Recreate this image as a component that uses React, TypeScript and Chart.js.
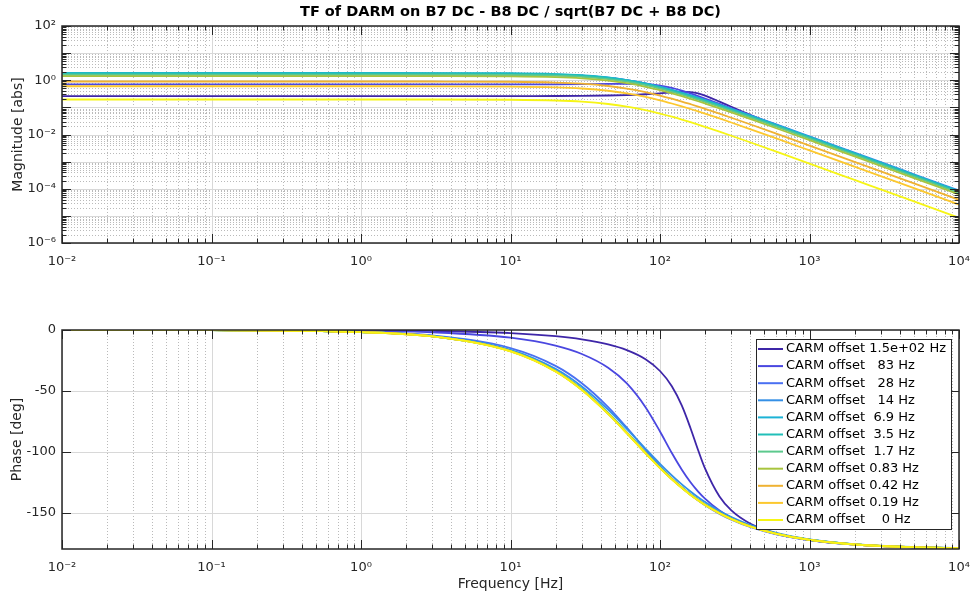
import React, { useEffect, useRef } from 'react';
import { Chart, registerables } from 'chart.js';

Chart.register(...registerables);

const FONT = "'DejaVu Sans', 'Liberation Sans', sans-serif";
const TEXT = '#262626';
const MAJOR_GRID = '#d8d8d8';
const MINOR_GRID = '#bababa';
const TITLE = 'TF of DARM on B7 DC - B8 DC / sqrt(B7 DC + B8 DC)';

// ---- data ----
const frequencies = [0.01, 0.1, 1, 3, 10, 20, 30, 45, 60, 80, 100, 120, 140, 160, 180, 200, 250, 300, 400, 600, 1000, 2000, 5000, 10000];

const offsetLabels = [
  'CARM offset 1.5e+02 Hz',
  'CARM offset   83 Hz',
  'CARM offset   28 Hz',
  'CARM offset   14 Hz',
  'CARM offset  6.9 Hz',
  'CARM offset  3.5 Hz',
  'CARM offset  1.7 Hz',
  'CARM offset 0.83 Hz',
  'CARM offset 0.42 Hz',
  'CARM offset 0.19 Hz',
  'CARM offset    0 Hz',
];

const lineColors = ['#3e26a8', '#4a47e0', '#4a70f2', '#3590e6', '#1cb3d6', '#21bfb8', '#5cc98d', '#a8c43e', '#efb232', '#fcc82e', '#f6f515'];

const magOffset150 = [0.260, 0.260, 0.260, 0.260, 0.261, 0.263, 0.266, 0.274, 0.285, 0.305, 0.331, 0.359, 0.377, 0.368, 0.328, 0.273, 0.163, 0.105, 0.0535, 0.0221, 0.00767, 0.00189, 3.01e-4, 7.52e-5];
const magOffset83 = [0.700, 0.700, 0.700, 0.700, 0.702, 0.707, 0.715, 0.729, 0.736, 0.711, 0.632, 0.521, 0.413, 0.326, 0.260, 0.211, 0.134, 0.0920, 0.0511, 0.0225, 0.00804, 0.00201, 3.21e-4, 8.02e-5];
const magOffset28 = [1.60, 1.60, 1.60, 1.598, 1.579, 1.516, 1.418, 1.223, 1.012, 0.762, 0.572, 0.436, 0.339, 0.270, 0.219, 0.181, 0.119, 0.0840, 0.0480, 0.0216, 0.00781, 0.00196, 3.14e-4, 7.84e-5];
const magOffset14 = [1.75, 1.75, 1.75, 1.746, 1.715, 1.618, 1.478, 1.238, 1.009, 0.759, 0.576, 0.444, 0.350, 0.281, 0.230, 0.191, 0.127, 0.0903, 0.0520, 0.0235, 0.00853, 0.00214, 3.43e-4, 8.58e-5];
const magOffset6p9 = [1.85, 1.85, 1.85, 1.846, 1.809, 1.694, 1.533, 1.263, 1.013, 0.749, 0.561, 0.430, 0.336, 0.269, 0.219, 0.182, 0.121, 0.0854, 0.0490, 0.0221, 0.00802, 0.00201, 3.22e-4, 8.06e-5];
const magOffset3p5 = [1.80, 1.80, 1.80, 1.796, 1.760, 1.649, 1.492, 1.229, 0.986, 0.729, 0.546, 0.418, 0.327, 0.262, 0.213, 0.177, 0.117, 0.0831, 0.0477, 0.0215, 0.00781, 0.00196, 3.14e-4, 7.84e-5];
const magOffset1p7 = [1.62, 1.62, 1.62, 1.617, 1.584, 1.484, 1.343, 1.106, 0.887, 0.656, 0.492, 0.376, 0.295, 0.236, 0.192, 0.159, 0.1055, 0.0748, 0.0429, 0.0194, 0.00703, 0.00176, 2.82e-4, 7.06e-5];
const magOffset0p83 = [1.42, 1.42, 1.42, 1.417, 1.388, 1.301, 1.177, 0.969, 0.777, 0.575, 0.431, 0.330, 0.258, 0.206, 0.168, 0.139, 0.0925, 0.0655, 0.0376, 0.0170, 0.00616, 0.00155, 2.47e-4, 6.19e-5];
const magOffset0p42 = [0.900, 0.900, 0.900, 0.898, 0.880, 0.824, 0.746, 0.614, 0.493, 0.365, 0.273, 0.209, 0.164, 0.131, 0.107, 0.0884, 0.0586, 0.0415, 0.0239, 0.0108, 0.00390, 9.79e-4, 1.57e-4, 3.92e-5];
const magOffset0p19 = [0.600, 0.600, 0.600, 0.599, 0.587, 0.550, 0.497, 0.410, 0.329, 0.243, 0.182, 0.139, 0.109, 0.0872, 0.0711, 0.0589, 0.0391, 0.0277, 0.0159, 0.00718, 0.00260, 6.53e-4, 1.05e-4, 2.61e-5];
const magOffset0 = [0.195, 0.195, 0.195, 0.195, 0.191, 0.179, 0.162, 0.133, 0.107, 0.0790, 0.0592, 0.0453, 0.0355, 0.0284, 0.0231, 0.0191, 0.0127, 0.00900, 0.00517, 0.00233, 8.46e-4, 2.12e-4, 3.40e-5, 8.49e-6];

const phaseOffset150 = [0, -0.02, -0.25, -0.75, -2.5, -5.05, -7.7, -11.9, -16.6, -24.1, -33.7, -46.2, -62.2, -80.7, -98.8, -113.8, -136.9, -148.3, -159.0, -167.1, -172.6, -176.4, -178.6, -179.3];
const phaseOffset83 = [-0.01, -0.06, -0.63, -1.89, -6.33, -12.8, -19.7, -31.0, -43.9, -63.4, -83.4, -101.1, -114.8, -125.1, -132.8, -138.6, -148.4, -154.3, -161.3, -167.8, -172.7, -176.4, -178.6, -179.3];
const phaseOffset28 = [-0.01, -0.15, -1.49, -4.46, -14.9, -29.5, -43.7, -63.3, -80.3, -98.4, -111.8, -121.9, -129.5, -135.5, -140.2, -144.0, -151.1, -155.8, -161.8, -167.9, -172.7, -176.4, -178.5, -179.3];
const phaseOffset14 = [-0.02, -0.16, -1.64, -4.91, -16.3, -31.9, -46.4, -65.5, -81.2, -97.6, -110.0, -119.5, -126.9, -132.7, -137.5, -141.4, -148.7, -153.7, -160.1, -166.7, -172.0, -176.0, -178.4, -179.2];
const phaseOffset6p9 = [-0.02, -0.17, -1.72, -5.16, -17.0, -33.4, -48.5, -68.2, -84.1, -100.5, -112.9, -122.1, -129.3, -135.0, -139.5, -143.3, -150.2, -155.0, -161.2, -167.3, -172.3, -176.2, -178.5, -179.2];
const phaseOffset3p5 = [-0.02, -0.17, -1.73, -5.19, -17.1, -33.6, -48.7, -68.4, -84.3, -100.7, -113.0, -122.3, -129.4, -135.1, -139.6, -143.4, -150.3, -155.1, -161.2, -167.4, -172.4, -176.2, -178.5, -179.2];
const phaseOffset1p7 = [-0.02, -0.17, -1.74, -5.21, -17.2, -33.7, -48.9, -68.6, -84.5, -100.9, -113.2, -122.4, -129.5, -135.2, -139.7, -143.5, -150.4, -155.2, -161.3, -167.4, -172.4, -176.2, -178.5, -179.2];
const phaseOffset0p83 = [-0.02, -0.17, -1.75, -5.23, -17.3, -33.8, -49.0, -68.7, -84.6, -101.0, -113.3, -122.5, -129.6, -135.3, -139.8, -143.6, -150.4, -155.2, -161.3, -167.4, -172.4, -176.2, -178.5, -179.2];
const phaseOffset0p42 = [-0.02, -0.18, -1.76, -5.25, -17.4, -33.9, -49.1, -68.8, -84.7, -101.1, -113.4, -122.6, -129.7, -135.4, -139.9, -143.7, -150.5, -155.3, -161.4, -167.5, -172.5, -176.3, -178.5, -179.2];
const phaseOffset0p19 = [-0.02, -0.18, -1.77, -5.27, -17.5, -34.0, -49.2, -68.9, -84.8, -101.2, -113.5, -122.7, -129.8, -135.5, -140.0, -143.8, -150.6, -155.4, -161.4, -167.5, -172.5, -176.3, -178.5, -179.2];
const phaseOffset0 = [-0.02, -0.18, -1.78, -5.3, -17.6, -34.1, -49.3, -69.0, -84.9, -101.3, -113.6, -122.8, -129.9, -135.6, -140.1, -143.9, -150.7, -155.4, -161.5, -167.6, -172.5, -176.3, -178.5, -179.2];

const magnitudeSeries = [magOffset150, magOffset83, magOffset28, magOffset14, magOffset6p9, magOffset3p5, magOffset1p7, magOffset0p83, magOffset0p42, magOffset0p19, magOffset0];
const phaseSeries = [phaseOffset150, phaseOffset83, phaseOffset28, phaseOffset14, phaseOffset6p9, phaseOffset3p5, phaseOffset1p7, phaseOffset0p83, phaseOffset0p42, phaseOffset0p19, phaseOffset0];

const freqTickValues = [0.01, 0.1, 1, 10, 100, 1000, 10000];
const magTickValues = [1e-6, 1e-4, 1e-2, 1, 100];
const phaseTickValues = [-150, -100, -50, 0];

// ---- helpers ----
const SUP: Record<string, string> = { '-': '\u207B', '0': '\u2070', '1': '\u00B9', '2': '\u00B2', '3': '\u00B3', '4': '\u2074', '5': '\u2075', '6': '\u2076', '7': '\u2077', '8': '\u2078', '9': '\u2079' };
const pow10Label = (v: number) => '10' + String(Math.round(Math.log10(v))).split('').map((c) => SUP[c] || c).join('');

const logGrid = (minExp: number, maxExp: number) => {
  const out: { v: number; major: boolean }[] = [];
  for (let e = minExp; e < maxExp; e++) {
    for (let m = 1; m <= 9; m++) out.push({ v: m * Math.pow(10, e), major: m === 1 });
  }
  out.push({ v: Math.pow(10, maxExp), major: true });
  return out;
};

const toDatasets = (arrays: number[][]) =>
  arrays.map((arr, i) => ({
    label: offsetLabels[i],
    data: frequencies.map((f, j) => ({ x: f, y: arr[j] })),
    borderColor: lineColors[i],
    backgroundColor: lineColors[i],
    borderWidth: 1.8,
    pointRadius: 0,
    pointHoverRadius: 0,
    fill: false,
    cubicInterpolationMode: 'monotone' as const,
    order: arrays.length - 1 - i,
  }));

const px = (v: number) => Math.round(v) + 0.5;

const makeFramePlugin = (yLog: boolean, yLinearGrid: number[]) => ({
  id: 'matlabFrame',
  beforeDatasetsDraw(chart: any) {
    const { ctx, chartArea: a, scales } = chart;
    const x = scales.x;
    const y = scales.y;
    const xg = logGrid(-2, 4);
    ctx.save();
    ctx.lineWidth = 1;
    ctx.strokeStyle = MINOR_GRID;
    ctx.setLineDash([1, 2]);
    ctx.beginPath();
    xg.filter((g) => !g.major).forEach((g) => {
      const X = px(x.getPixelForValue(g.v));
      ctx.moveTo(X, a.top);
      ctx.lineTo(X, a.bottom);
    });
    if (yLog) {
      logGrid(-6, 2).filter((g) => !g.major).forEach((g) => {
        const Y = px(y.getPixelForValue(g.v));
        ctx.moveTo(a.left, Y);
        ctx.lineTo(a.right, Y);
      });
    }
    ctx.stroke();
    ctx.setLineDash([]);
    ctx.strokeStyle = MAJOR_GRID;
    ctx.beginPath();
    xg.filter((g) => g.major).forEach((g) => {
      const X = px(x.getPixelForValue(g.v));
      ctx.moveTo(X, a.top);
      ctx.lineTo(X, a.bottom);
    });
    const yMajors = yLog ? logGrid(-6, 2).filter((g) => g.major).map((g) => g.v) : yLinearGrid;
    yMajors.forEach((v) => {
      const Y = px(y.getPixelForValue(v));
      ctx.moveTo(a.left, Y);
      ctx.lineTo(a.right, Y);
    });
    ctx.stroke();
    ctx.restore();
  },
  afterDatasetsDraw(chart: any) {
    const { ctx, chartArea: a, scales } = chart;
    const x = scales.x;
    const y = scales.y;
    ctx.save();
    ctx.strokeStyle = TEXT;
    ctx.lineWidth = 1;
    ctx.beginPath();
    logGrid(-2, 4).forEach((g) => {
      const X = px(x.getPixelForValue(g.v));
      const len = g.major ? 9 : 4.5;
      ctx.moveTo(X, a.bottom);
      ctx.lineTo(X, a.bottom - len);
      ctx.moveTo(X, a.top);
      ctx.lineTo(X, a.top + len);
    });
    const yTicks = yLog ? logGrid(-6, 2) : phaseTickValues.map((v) => ({ v, major: true }));
    yTicks.forEach((g) => {
      const Y = px(y.getPixelForValue(g.v));
      const len = g.major ? 9 : 4.5;
      ctx.moveTo(a.left, Y);
      ctx.lineTo(a.left + len, Y);
      ctx.moveTo(a.right, Y);
      ctx.lineTo(a.right - len, Y);
    });
    ctx.stroke();
    ctx.lineWidth = 1.5;
    ctx.strokeRect(a.left, a.top, a.right - a.left, a.bottom - a.top);
    ctx.restore();
  },
});

const titlePlugin = {
  id: 'centeredTitle',
  afterDraw(chart: any) {
    const { ctx, chartArea: a } = chart;
    ctx.save();
    ctx.font = `bold 14.5px ${FONT}`;
    ctx.fillStyle = '#000000';
    ctx.textAlign = 'center';
    ctx.textBaseline = 'middle';
    ctx.fillText(TITLE, (a.left + a.right) / 2, 12);
    ctx.restore();
  },
};

const boxLegendPlugin = {
  id: 'boxLegend',
  afterDraw(chart: any) {
    const { ctx, chartArea: a } = chart;
    const w = 195;
    const h = 190;
    const rowH = 17.1;
    const left = Math.round(a.right - 8 - w);
    const top = Math.round(a.top + 9);
    ctx.save();
    ctx.fillStyle = '#ffffff';
    ctx.fillRect(left, top, w, h);
    ctx.strokeStyle = TEXT;
    ctx.lineWidth = 1;
    ctx.strokeRect(left + 0.5, top + 0.5, w, h);
    ctx.font = `13px ${FONT}`;
    ctx.textBaseline = 'middle';
    ctx.textAlign = 'left';
    offsetLabels.forEach((label, i) => {
      const cy = top + 10 + i * rowH;
      ctx.strokeStyle = lineColors[i];
      ctx.lineWidth = 2;
      ctx.beginPath();
      ctx.moveTo(left + 2, cy);
      ctx.lineTo(left + 27, cy);
      ctx.stroke();
      ctx.fillStyle = '#000000';
      ctx.fillText(label, left + 30, cy);
    });
    ctx.restore();
  },
};

const tickFont = { family: FONT, size: 13 };
const titleFont = { family: FONT, size: 14 };

const xScale = (height: number, withTitle: boolean) => ({
  type: 'logarithmic' as const,
  min: 0.01,
  max: 10000,
  grid: { display: false, drawTicks: false },
  border: { display: false },
  afterBuildTicks: (axis: any) => {
    axis.ticks = freqTickValues.map((v) => ({ value: v }));
  },
  afterFit: (axis: any) => {
    axis.height = height;
    axis.paddingLeft = 0;
    axis.paddingRight = 0;
  },
  ticks: {
    autoSkip: false,
    maxRotation: 0,
    padding: 11,
    color: TEXT,
    font: tickFont,
    callback: (v: any) => pow10Label(Number(v)),
  },
  title: withTitle
    ? { display: true, text: 'Frequency [Hz]', color: TEXT, font: titleFont, padding: { top: 0, bottom: 4 } }
    : { display: false },
});

export default function App() {
  const magRef = useRef<HTMLCanvasElement>(null);
  const phaseRef = useRef<HTMLCanvasElement>(null);

  useEffect(() => {
    Chart.defaults.font.family = FONT;
    const magChart = new Chart(magRef.current as HTMLCanvasElement, {
      type: 'line',
      data: { datasets: toDatasets(magnitudeSeries) as any },
      options: {
        animation: false,
        responsive: false,
        devicePixelRatio: 1,
        events: [],
        layout: { padding: { left: 0, right: 14, top: 26, bottom: 0 } },
        plugins: {
          legend: { display: false },
          tooltip: { enabled: false },
          title: { display: false },
        },
        scales: {
          x: xScale(47, false) as any,
          y: {
            type: 'logarithmic',
            min: 1e-6,
            max: 100,
            grid: { display: false, drawTicks: false },
            border: { display: false },
            afterBuildTicks: (axis: any) => {
              axis.ticks = magTickValues.map((v) => ({ value: v }));
            },
            afterFit: (axis: any) => {
              axis.width = 62;
              axis.paddingTop = 0;
              axis.paddingBottom = 0;
            },
            ticks: {
              autoSkip: false,
              padding: 6,
              color: TEXT,
              font: tickFont,
              callback: (v: any) => pow10Label(Number(v)),
            },
            title: { display: true, text: 'Magnitude [abs]', color: TEXT, font: titleFont, padding: { top: 10, bottom: 10 } },
          } as any,
        },
      },
      plugins: [makeFramePlugin(true, []), titlePlugin],
    });

    const phaseChart = new Chart(phaseRef.current as HTMLCanvasElement, {
      type: 'line',
      data: { datasets: toDatasets(phaseSeries) as any },
      options: {
        animation: false,
        responsive: false,
        devicePixelRatio: 1,
        events: [],
        layout: { padding: { left: 0, right: 14, top: 40, bottom: 0 } },
        plugins: {
          legend: { display: false },
          tooltip: { enabled: false },
          title: { display: false },
        },
        scales: {
          x: xScale(48, true) as any,
          y: {
            type: 'linear',
            min: -180,
            max: 0,
            grid: { display: false, drawTicks: false },
            border: { display: false },
            afterBuildTicks: (axis: any) => {
              axis.ticks = phaseTickValues.map((v) => ({ value: v }));
            },
            afterFit: (axis: any) => {
              axis.width = 62;
              axis.paddingTop = 0;
              axis.paddingBottom = 0;
            },
            ticks: {
              autoSkip: false,
              padding: 6,
              color: TEXT,
              font: tickFont,
              callback: (v: any) => String(v),
            },
            title: { display: true, text: 'Phase [deg]', color: TEXT, font: titleFont, padding: { top: 9, bottom: 9 } },
          } as any,
        },
      },
      plugins: [makeFramePlugin(false, [-150, -100, -50]), boxLegendPlugin],
    });

    return () => {
      magChart.destroy();
      phaseChart.destroy();
    };
  }, []);

  return (
    <div style={{ position: 'fixed', left: 0, top: 0, width: 973, height: 597, background: '#ffffff' }}>
      <canvas ref={magRef} width={973} height={290} style={{ position: 'absolute', left: 0, top: 0, width: 973, height: 290 }} />
      <canvas ref={phaseRef} width={973} height={307} style={{ position: 'absolute', left: 0, top: 290, width: 973, height: 307 }} />
    </div>
  );
}
